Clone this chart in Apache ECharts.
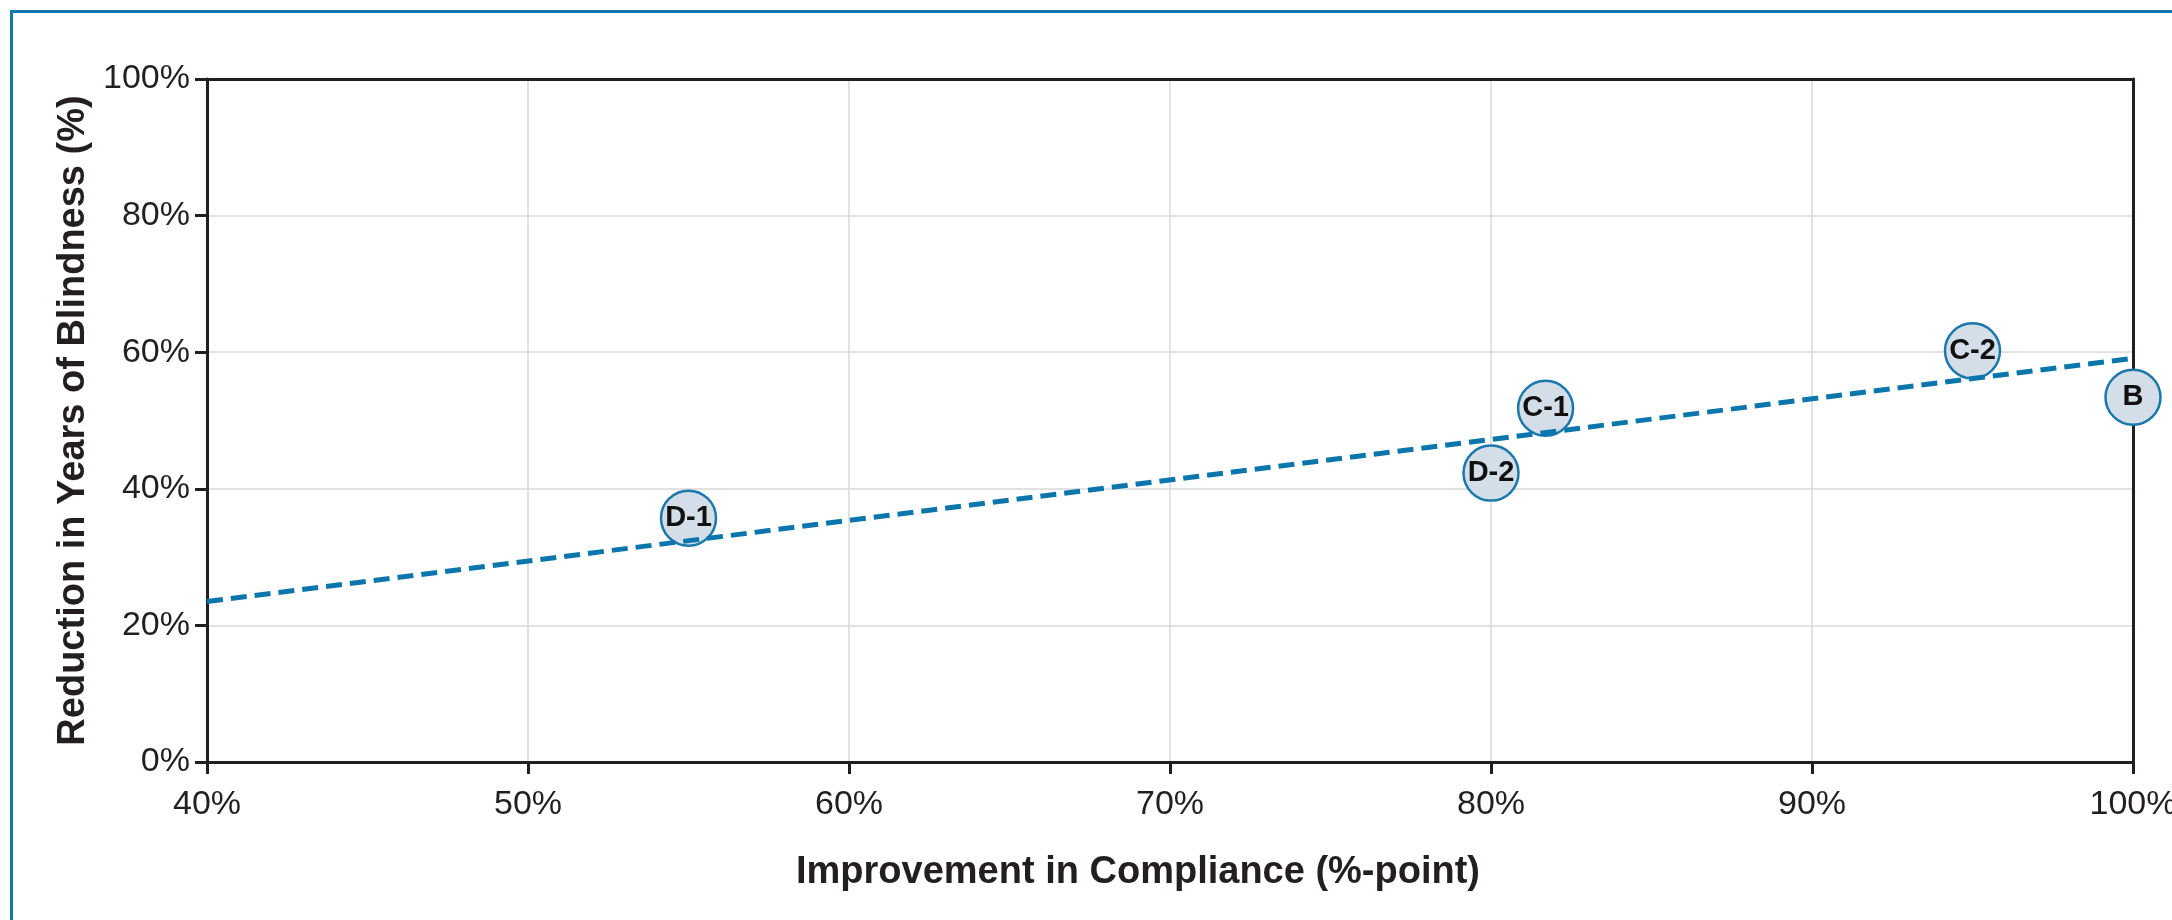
<!DOCTYPE html>
<html>
<head>
<meta charset="utf-8">
<script src="https://cdn.jsdelivr.net/npm/echarts@6/dist/echarts.min.js"></script>
<style>
  html, body { margin: 0; padding: 0; background: #fff; overflow: hidden; }
  #frame { position: absolute; left: 10px; top: 10px; width: 2200px; height: 960px;
           border-top: 3px solid #1178ae; border-left: 3px solid #1178ae; box-sizing: border-box; }
  #chart { position: absolute; left: 0; top: 0; width: 2172px; height: 920px; }
</style>
</head>
<body>
<div id="frame"></div>
<div id="chart"></div>
<script>
// Data
const pointLabels = ['D-1', 'D-2', 'C-1', 'C-2', 'B'];
const complianceImprovement = [55, 80, 81.7, 95, 100];     // x, %-point
const blindnessReduction = [35.7, 42.3, 51.8, 60.2, 53.4]; // y, %
const trendX = [40, 100];
const trendY = [23.5, 59.1];
const xTicks = { min: 40, max: 100, interval: 10 };
const yTicks = { min: 0, max: 100, interval: 20 };

const FONT = "'Liberation Sans', Arial, Helvetica, sans-serif";
const DARK = '#231f20';
const chart = echarts.init(document.getElementById('chart'), null, { renderer: 'canvas' });

const scatterData = pointLabels.map((name, i) => ({
  name: name,
  value: [complianceImprovement[i], blindnessReduction[i]]
}));
const trendData = trendX.map((x, i) => [x, trendY[i]]);

const frameAxis = {
  axisLine: { show: true, onZero: false, lineStyle: { color: DARK, width: 3 } },
  axisTick: { show: false }, axisLabel: { show: false }, splitLine: { show: false }
};

chart.setOption({
  animation: false,
  backgroundColor: 'transparent',
  grid: {
    left: 207, right: 39, top: 79, bottom: 158,
    outerBoundsMode: 'none'
  },
  xAxis: [{
    type: 'value',
    min: xTicks.min, max: xTicks.max, interval: xTicks.interval,
    name: 'Improvement in Compliance (%-point)',
    nameLocation: 'middle',
    nameGap: 92,
    nameTextStyle: { fontFamily: FONT, fontSize: 38, fontWeight: 'bold', color: DARK, padding: [0, 64, 0, 0] },
    axisLine: { show: true, onZero: false, lineStyle: { color: DARK, width: 3 } },
    axisTick: { show: true, inside: false, length: 12, lineStyle: { color: DARK, width: 3 } },
    axisLabel: { formatter: '{value}%', fontFamily: FONT, fontSize: 34, color: DARK, margin: 26 },
    splitLine: { show: true, lineStyle: { color: '#d9d9d9', width: 1.5 } },
    z: 1
  }, Object.assign({
    type: 'value', position: 'top',
    min: xTicks.min, max: xTicks.max, interval: xTicks.interval, z: 1
  }, frameAxis)],
  yAxis: [{
    type: 'value',
    min: yTicks.min, max: yTicks.max, interval: yTicks.interval,
    name: 'Reduction in Years of Blindness (%)',
    nameLocation: 'middle',
    nameGap: 113,
    nameRotate: 90,
    nameTextStyle: { fontFamily: FONT, fontSize: 38, fontWeight: 'bold', color: DARK },
    axisLine: { show: true, onZero: false, lineStyle: { color: DARK, width: 3 } },
    axisTick: { show: true, inside: false, length: 12, lineStyle: { color: DARK, width: 3 } },
    axisLabel: { formatter: '{value}%', fontFamily: FONT, fontSize: 34, color: DARK, margin: 17 },
    splitLine: { show: true, lineStyle: { color: '#d9d9d9', width: 1.5 } },
    z: 1
  }, Object.assign({
    type: 'value', position: 'right',
    min: yTicks.min, max: yTicks.max, interval: yTicks.interval, z: 1
  }, frameAxis)],
  series: [
    {
      type: 'scatter',
      data: scatterData,
      symbol: 'circle',
      symbolSize: 55,
      z: 3,
      itemStyle: { color: '#d4dee8', borderColor: '#1a78ab', borderWidth: 2.5, opacity: 1 },
      label: {
        show: true, position: 'inside',
        formatter: p => p.name,
        fontFamily: FONT, fontSize: 29, fontWeight: 'bold', color: '#111'
      },
      emphasis: { disabled: true }
    },
    {
      type: 'line',
      data: trendData,
      showSymbol: false,
      symbol: 'none',
      z: 4,
      lineStyle: { color: '#0b76ab', width: 5, type: [16, 8] },
      emphasis: { disabled: true }
    }
  ]
});
</script>
</body>
</html>
